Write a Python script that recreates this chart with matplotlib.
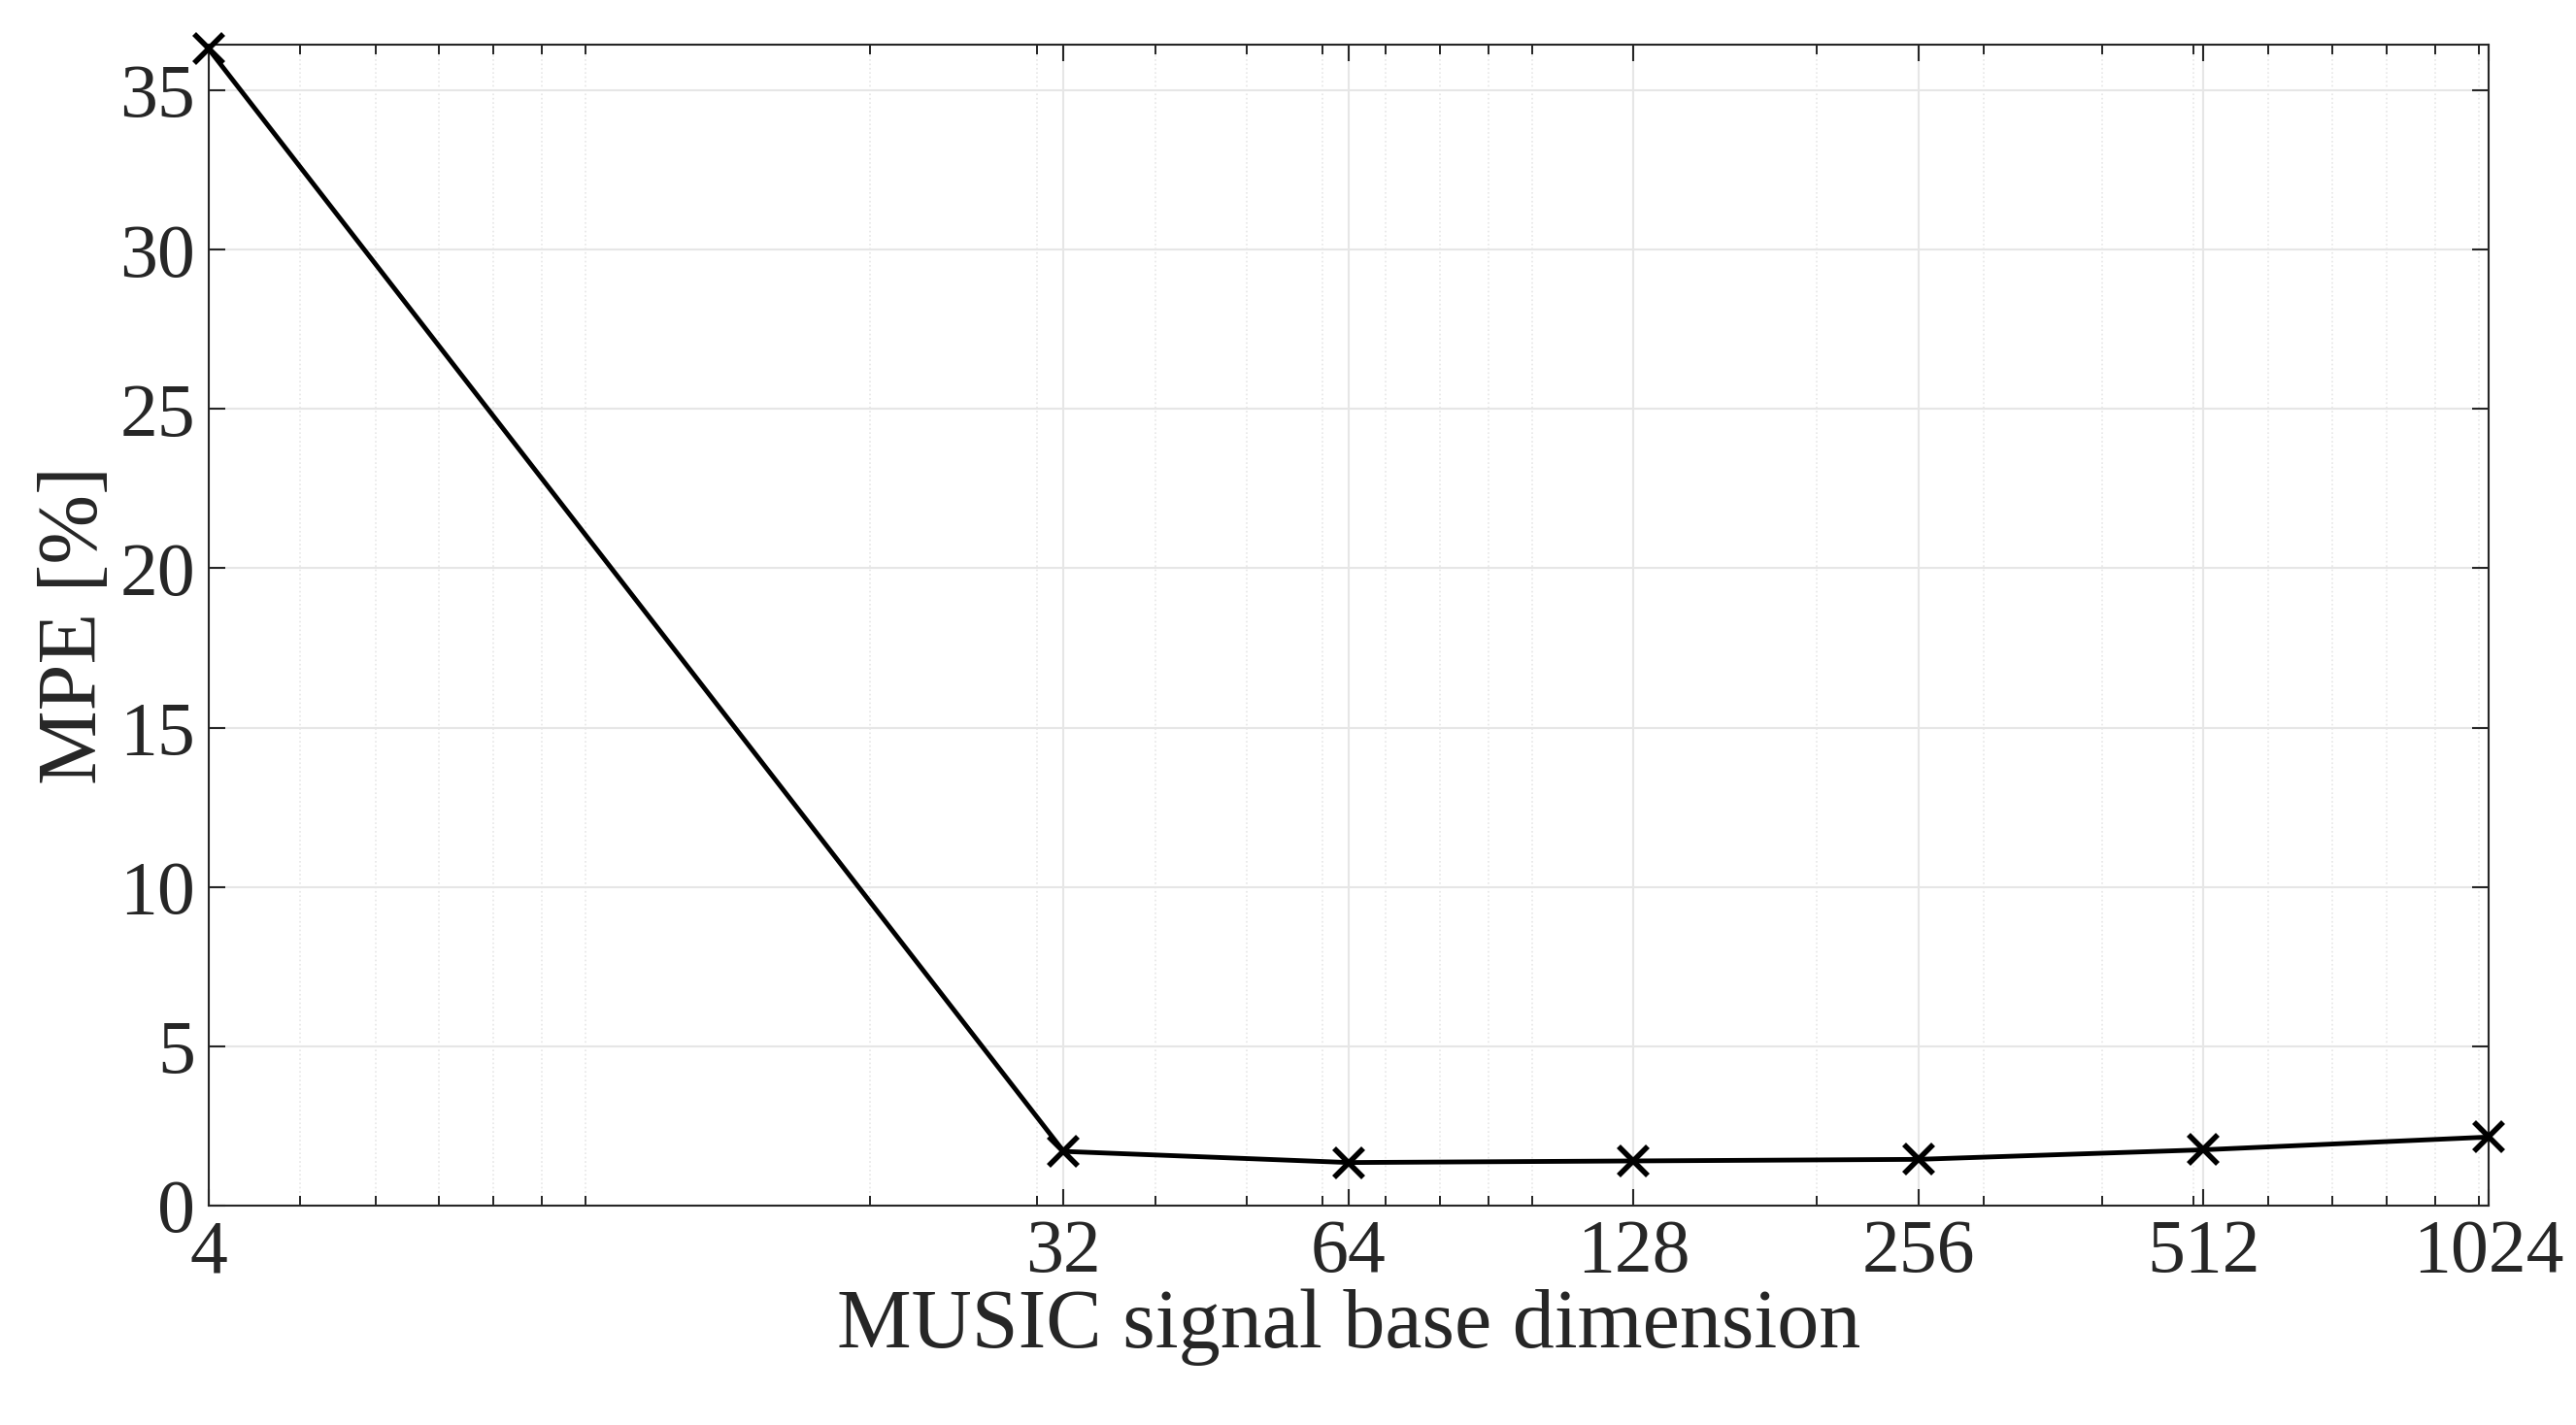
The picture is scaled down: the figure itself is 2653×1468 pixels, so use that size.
import matplotlib
matplotlib.use("Agg")
import matplotlib.pyplot as plt
from matplotlib.ticker import FixedLocator, NullFormatter

dims = [4, 32, 64, 128, 256, 512, 1024]
mpe = [36.3, 1.7, 1.35, 1.4, 1.45, 1.75, 2.15]
yticks = [0, 5, 10, 15, 20, 25, 30, 35]

plt.rcParams['font.family'] = ['Liberation Serif', 'DejaVu Serif']
fig = plt.figure(figsize=(26.53, 14.68), dpi=100)
ax = fig.add_axes([0.081, 0.154, 0.885, 0.815])
ax.plot(dims, mpe, color='black', lw=3.5, marker='x', ms=22, mew=4, clip_on=False, zorder=5)
ax.set_xscale('log', base=2)
ax.set_xlim(4, 1024)
ax.set_ylim(0, 36.45)
ax.set_xticks(dims)
ax.set_xticklabels([str(d) for d in dims])
minors = [m for m in [5,6,7,8,9,10,20,30,40,50,60,70,80,90,100,200,300,400,500,600,700,800,900,1000] if m not in dims]
ax.xaxis.set_minor_locator(FixedLocator(minors))
ax.xaxis.set_minor_formatter(NullFormatter())
ax.set_yticks(yticks)
ax.grid(True, which='major', color='#e6e6e6', lw=1.5)
ax.grid(True, which='minor', axis='x', color='#e6e6e6', lw=1.2, ls=':')
ax.tick_params(labelsize=56, direction='in', length=12, width=1.5, colors='#262626', pad=10)
ax.tick_params(which='minor', direction='in', length=7, width=1.2)
ax.tick_params(top=True, right=True, which='both')
for s in ax.spines.values():
    s.set_color('#262626'); s.set_linewidth(1.5)
ax.set_xlabel('MUSIC signal base dimension', fontsize=62, color='#262626', labelpad=0)
ax.set_ylabel('MPE [%]', fontsize=62, color='#262626', labelpad=4)
fig.savefig('out.png', dpi=100, facecolor='white')
